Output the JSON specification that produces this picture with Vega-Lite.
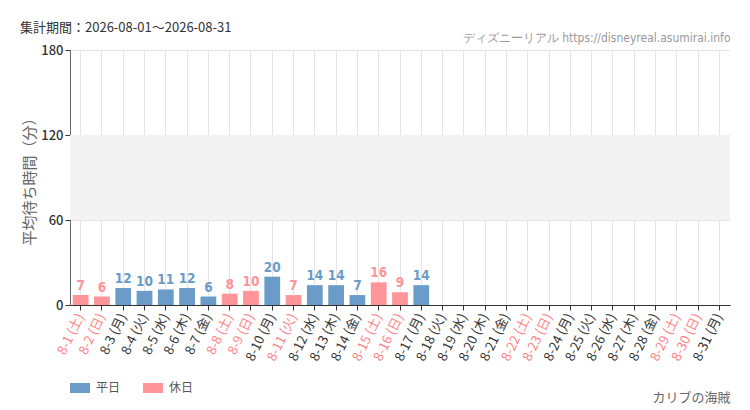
{
  "$schema": "https://vega.github.io/schema/vega-lite/v6.json",
  "width": 660,
  "height": 255,
  "autosize": {"type": "none"},
  "padding": {"left": 70, "top": 50, "right": 20, "bottom": 105},
  "background": "#ffffff",
  "title": {
    "text": "集計期間：2026-08-01～2026-08-31",
    "anchor": "start",
    "frame": "group",
    "dx": -50,
    "offset": -4,
    "fontSize": 13,
    "fontWeight": "normal",
    "color": "#333333",
    "font": "Noto Sans CJK JP"
  },
  "config": {
    "view": {"stroke": null},
    "font": "Noto Sans CJK JP"
  },
  "datasets": {
    "waits": [
      {"date": "8-1 (土)", "wait": 7, "type": "休日"},
      {"date": "8-2 (日)", "wait": 6, "type": "休日"},
      {"date": "8-3 (月)", "wait": 12, "type": "平日"},
      {"date": "8-4 (火)", "wait": 10, "type": "平日"},
      {"date": "8-5 (水)", "wait": 11, "type": "平日"},
      {"date": "8-6 (木)", "wait": 12, "type": "平日"},
      {"date": "8-7 (金)", "wait": 6, "type": "平日"},
      {"date": "8-8 (土)", "wait": 8, "type": "休日"},
      {"date": "8-9 (日)", "wait": 10, "type": "休日"},
      {"date": "8-10 (月)", "wait": 20, "type": "平日"},
      {"date": "8-11 (火)", "wait": 7, "type": "休日"},
      {"date": "8-12 (水)", "wait": 14, "type": "平日"},
      {"date": "8-13 (木)", "wait": 14, "type": "平日"},
      {"date": "8-14 (金)", "wait": 7, "type": "平日"},
      {"date": "8-15 (土)", "wait": 16, "type": "休日"},
      {"date": "8-16 (日)", "wait": 9, "type": "休日"},
      {"date": "8-17 (月)", "wait": 14, "type": "平日"},
      {"date": "8-18 (火)", "wait": null, "type": "平日"},
      {"date": "8-19 (水)", "wait": null, "type": "平日"},
      {"date": "8-20 (木)", "wait": null, "type": "平日"},
      {"date": "8-21 (金)", "wait": null, "type": "平日"},
      {"date": "8-22 (土)", "wait": null, "type": "休日"},
      {"date": "8-23 (日)", "wait": null, "type": "休日"},
      {"date": "8-24 (月)", "wait": null, "type": "平日"},
      {"date": "8-25 (火)", "wait": null, "type": "平日"},
      {"date": "8-26 (水)", "wait": null, "type": "平日"},
      {"date": "8-27 (木)", "wait": null, "type": "平日"},
      {"date": "8-28 (金)", "wait": null, "type": "平日"},
      {"date": "8-29 (土)", "wait": null, "type": "休日"},
      {"date": "8-30 (日)", "wait": null, "type": "休日"},
      {"date": "8-31 (月)", "wait": null, "type": "平日"}
    ],
    "band": [{"lo": 60, "hi": 120}]
  },
  "resolve": {"axis": {"x": "independent"}},
  "layer": [
    {
      "data": {"name": "band"},
      "mark": {"type": "rect", "color": "#f3f3f3"},
      "encoding": {
        "y": {"field": "lo", "type": "quantitative", "scale": {"domain": [0, 180]}},
        "y2": {"field": "hi"}
      }
    },
    {
      "data": {"name": "waits"},
      "mark": {"type": "bar", "opacity": 1},
      "encoding": {
        "x": {
          "field": "date",
          "type": "nominal",
          "sort": null,
          "scale": {
            "domain": ["8-1 (土)", "8-2 (日)", "8-3 (月)", "8-4 (火)", "8-5 (水)", "8-6 (木)", "8-7 (金)", "8-8 (土)", "8-9 (日)", "8-10 (月)", "8-11 (火)", "8-12 (水)", "8-13 (木)", "8-14 (金)", "8-15 (土)", "8-16 (日)", "8-17 (月)", "8-18 (火)", "8-19 (水)", "8-20 (木)", "8-21 (金)", "8-22 (土)", "8-23 (日)", "8-24 (月)", "8-25 (火)", "8-26 (水)", "8-27 (木)", "8-28 (金)", "8-29 (土)", "8-30 (日)", "8-31 (月)"],
            "paddingInner": 0.26,
            "paddingOuter": 0.13
          },
          "axis": {
            "title": "カリブの海賊",
            "titleAnchor": "end",
            "titleAlign": "right",
            "titleX": 660,
            "titleY": 86,
            "titleFontSize": 13,
            "titleFontWeight": "normal",
            "titleColor": "#666666",
            "labelAngle": -64,
            "labelAlign": "right",
            "labelBaseline": "middle",
            "labelFontSize": 13,
            "labelPadding": 4,
            "labelFont": "Noto Sans CJK JP",
            "labelColor": {
              "condition": {"test": "test(/土|日/, datum.label) || datum.label == '8-11 (火)'", "value": "#ff7f85"},
              "value": "#333333"
            },
            "grid": true,
            "gridColor": "#e4e4e4",
            "domainColor": "#333333",
            "tickColor": "#333333",
            "tickSize": 5,
            "labelOverlap": false
          }
        },
        "y": {
          "field": "wait",
          "type": "quantitative",
          "scale": {"domain": [0, 180]},
          "axis": {
            "title": "平均待ち時間（分）",
            "titleFontSize": 15,
            "titleFontWeight": "normal",
            "titleColor": "#666666",
            "titlePadding": 3,
            "values": [0, 60, 120, 180],
            "labelFontSize": 13,
            "labelColor": "#333333",
            "labelFontWeight": 500,
            "gridColor": "#e4e4e4",
            "domainColor": "#666666",
            "tickColor": "#333333",
            "tickSize": 5
          }
        },
        "color": {
          "field": "type",
          "type": "nominal",
          "scale": {"domain": ["平日", "休日"], "range": ["#6b9bc8", "#ff9499"]},
          "legend": {
            "orient": "none",
            "legendX": 0,
            "legendY": 328,
            "direction": "horizontal",
            "title": null,
            "symbolType": "M-1,-0.5H1V0.5H-1Z",
            "symbolSize": 400,
            "symbolStrokeWidth": 0,
            "symbolOpacity": 1,
            "labelFontSize": 12,
            "labelColor": "#555555",
            "columnPadding": 22,
            "labelOffset": 6
          }
        }
      }
    },
    {
      "data": {"name": "waits"},
      "mark": {"type": "text", "baseline": "bottom", "dy": -2, "fontSize": 13.5, "fontWeight": "bold", "font": "DejaVu Sans Condensed"},
      "encoding": {
        "x": {
          "field": "date",
          "type": "nominal",
          "sort": null,
          "axis": {
            "orient": "top",
            "title": "ディズニーリアル https://disneyreal.asumirai.info",
            "titleAnchor": "end",
            "titleAlign": "right",
            "titleX": 660,
            "titleY": -6,
            "titleFontSize": 12,
            "titleFontWeight": "normal",
            "titleColor": "#999999",
            "titleFont": "DejaVu Sans Condensed",
            "labels": false,
            "ticks": false,
            "domain": false,
            "grid": false
          }
        },
        "y": {"field": "wait", "type": "quantitative"},
        "text": {"field": "wait", "type": "quantitative"},
        "color": {
          "field": "type",
          "type": "nominal",
          "scale": {"domain": ["平日", "休日"], "range": ["#4a7fb8", "#ff8085"]},
          "legend": null
        }
      }
    }
  ]
}
